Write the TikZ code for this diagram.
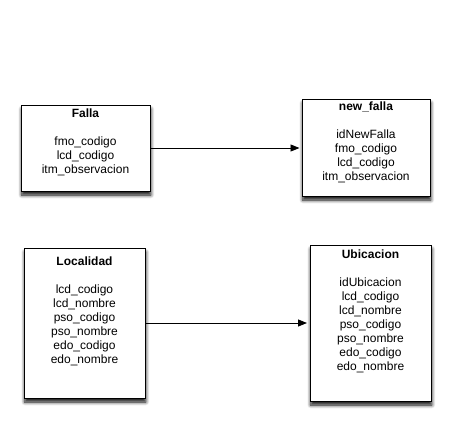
\documentclass[tikz,border=0pt]{standalone}
\usepackage{fontspec}
\setmainfont{Liberation Sans}
\usetikzlibrary{arrows.meta,shadows.blur}
\tikzset{
  tbl/.style={draw=black, line width=1pt, fill=white, inner sep=0pt,
    blur shadow={shadow xshift=0.8pt, shadow yshift=-4pt, shadow blur radius=3.5pt, shadow blur steps=8, shadow opacity=95}},
  txt/.style={anchor=north, inner sep=0pt, align=center, font=\fontsize{12}{14}\selectfont},
  arr/.style={line width=0.9pt, -{Triangle[length=9pt,width=7pt]}}
}
\begin{document}
\begin{tikzpicture}[x=1pt,y=-1pt]
\useasboundingbox (0,0) rectangle (451,426);
% boxes
\node[tbl, minimum width=129pt, minimum height=86pt] (falla) at (85.5,148) {};
\node[tbl, minimum width=128pt, minimum height=97pt] (nfalla) at (366,147.5) {};
\node[tbl, minimum width=121pt, minimum height=150pt] (loc) at (84.5,323) {};
\node[tbl, minimum width=121pt, minimum height=156pt] (ubi) at (370.5,323) {};
% texts
\node[txt] (fallat) at (85.5,108.6) {\textbf{Falla}\\[14pt]fmo\_codigo\\lcd\_codigo\\itm\_observacion};
\node[txt] (nfallat) at (366,101.6) {\textbf{new\_falla}\\[14pt]idNewFalla\\fmo\_codigo\\lcd\_codigo\\itm\_observacion};
\node[txt] (loct) at (84.5,256.6) {\textbf{Localidad}\\[14pt]lcd\_codigo\\lcd\_nombre\\pso\_codigo\\pso\_nombre\\edo\_codigo\\edo\_nombre};
\node[txt] (ubit) at (370.5,249.6) {\textbf{Ubicacion}\\[14pt]idUbicacion\\lcd\_codigo\\lcd\_nombre\\pso\_codigo\\pso\_nombre\\edo\_codigo\\edo\_nombre};
% connectors
\draw[arr, shorten >=2pt] (falla.east) -- (nfalla.west |- falla.east);
\draw[arr, shorten >=2.5pt] (loc.east) -- (ubi.west |- loc.east);
\end{tikzpicture}
\end{document}
